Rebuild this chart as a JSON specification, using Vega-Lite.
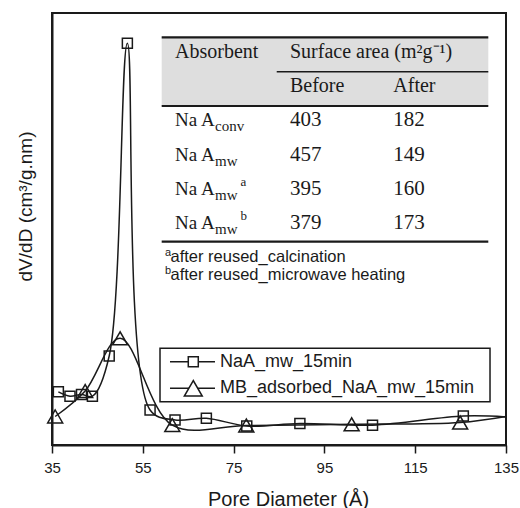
{
  "$schema": "https://vega.github.io/schema/vega-lite/v6.json",
  "width": 454,
  "height": 432,
  "autosize": {"type": "none"},
  "padding": {"left": 52, "top": 13, "right": 14, "bottom": 63},
  "background": "white",
  "config": {
    "view": {"stroke": "#1a1a1a", "strokeWidth": 2},
    "font": "Liberation Sans",
    "text": {"color": "#1a1a1a"}
  },
  "data": {"values": [{}]},
  "datasets": {
    "curves": [
      {"series": "NaA_mw_15min", "d": 36.4, "v": 12.3, "marker": true},
      {"series": "NaA_mw_15min", "d": 38.96, "v": 11.3, "marker": true},
      {"series": "NaA_mw_15min", "d": 41.5, "v": 11.7, "marker": true},
      {"series": "NaA_mw_15min", "d": 43.9, "v": 11.3, "marker": true},
      {"series": "NaA_mw_15min", "d": 47.6, "v": 20.6, "marker": true},
      {"series": "NaA_mw_15min", "d": 51.6, "v": 93.0, "marker": true},
      {"series": "NaA_mw_15min", "d": 56.6, "v": 8.1, "marker": true},
      {"series": "NaA_mw_15min", "d": 62.1, "v": 5.8, "marker": true},
      {"series": "NaA_mw_15min", "d": 69.0, "v": 6.2, "marker": true},
      {"series": "NaA_mw_15min", "d": 77.9, "v": 4.4, "marker": true},
      {"series": "NaA_mw_15min", "d": 89.6, "v": 5.0, "marker": true},
      {"series": "NaA_mw_15min", "d": 105.6, "v": 4.6, "marker": true},
      {"series": "NaA_mw_15min", "d": 125.6, "v": 6.7, "marker": true},
      {"series": "NaA_mw_15min", "d": 135, "v": 6.5, "marker": false},
      {"series": "MB_adsorbed_NaA_mw_15min", "d": 35.7, "v": 6.6, "marker": true},
      {"series": "MB_adsorbed_NaA_mw_15min", "d": 42.3, "v": 12.5, "marker": true},
      {"series": "MB_adsorbed_NaA_mw_15min", "d": 50.0, "v": 24.7, "marker": true},
      {"series": "MB_adsorbed_NaA_mw_15min", "d": 61.5, "v": 4.6, "marker": true},
      {"series": "MB_adsorbed_NaA_mw_15min", "d": 77.8, "v": 4.5, "marker": true},
      {"series": "MB_adsorbed_NaA_mw_15min", "d": 101.0, "v": 4.8, "marker": true},
      {"series": "MB_adsorbed_NaA_mw_15min", "d": 124.9, "v": 5.2, "marker": true},
      {"series": "MB_adsorbed_NaA_mw_15min", "d": 135, "v": 6.6, "marker": false}
    ],
    "table": [
      {"row": 2, "name": "Na A", "sub": "conv", "sup": "", "before": "403", "after": "182"},
      {"row": 3, "name": "Na A", "sub": "mw", "sup": "", "before": "457", "after": "149"},
      {"row": 4, "name": "Na A", "sub": "mw", "sup": "a", "before": "395", "after": "160"},
      {"row": 5, "name": "Na A", "sub": "mw", "sup": "b", "before": "379", "after": "173"}
    ]
  },
  "layer": [
    {
      "layer": [
        {
          "data": {"name": "curves"},
          "mark": {"type": "line", "interpolate": "catmull-rom", "strokeWidth": 1.5, "color": "#1a1a1a"},
          "encoding": {
            "x": {
              "field": "d", "type": "quantitative",
              "scale": {"domain": [35, 135], "nice": false, "zero": false},
              "axis": {
                "title": "Pore Diameter (Å)", "values": [35, 55, 75, 95, 115, 135], "grid": false,
                "tickSize": 8, "tickWidth": 1.5, "tickColor": "#1a1a1a",
                "domainColor": "#1a1a1a", "domainWidth": 2,
                "labelFont": "Liberation Sans", "labelFontSize": 15, "labelColor": "#1a1a1a",
                "labelPadding": 7, "labelFlush": false,
                "titleFont": "Liberation Sans", "titleFontSize": 20, "titleFontWeight": "normal",
                "titleColor": "#1a1a1a", "titleX": 236, "titleY": 54, "titleAlign": "center", "titleBaseline": "middle"
              }
            },
            "y": {
              "field": "v", "type": "quantitative",
              "scale": {"domain": [0, 100], "nice": false, "zero": false},
              "axis": {
                "title": "dV/dD (cm³/g.nm)", "labels": false, "ticks": false, "grid": false,
                "domainColor": "#1a1a1a", "domainWidth": 2,
                "titleFont": "Liberation Sans", "titleFontSize": 19, "titleFontWeight": "normal",
                "titleColor": "#1a1a1a", "titleAngle": -90, "titleAlign": "center",
                "titleBaseline": "middle", "titleX": -27, "titleY": 193
              }
            },
            "detail": {"field": "series"}
          }
        },
        {
          "data": {"name": "curves"},
          "transform": [{"filter": "datum.marker"}],
          "mark": {"type": "point", "filled": false, "strokeWidth": 1.5, "color": "#1a1a1a", "opacity": 1},
          "encoding": {
            "x": {"field": "d", "type": "quantitative", "scale": {"domain": [35, 135], "nice": false, "zero": false}},
            "y": {"field": "v", "type": "quantitative", "scale": {"domain": [0, 100], "nice": false, "zero": false}},
            "shape": {
              "field": "series", "type": "nominal",
              "scale": {"domain": ["NaA_mw_15min", "MB_adsorbed_NaA_mw_15min"], "range": ["square", "triangle-up"]},
              "legend": null
            },
            "size": {
              "field": "series", "type": "ordinal",
              "scale": {"domain": ["NaA_mw_15min", "MB_adsorbed_NaA_mw_15min"], "range": [100, 225]},
              "legend": null
            }
          }
        },
        {
          "mark": {"type": "rect", "fill": "white", "stroke": "#1a1a1a", "strokeWidth": 1.5},
          "encoding": {
            "x": {"datum": 58.79, "type": "quantitative", "scale": {"domain": [35, 135], "nice": false, "zero": false}},
            "x2": {"datum": 131.48},
            "y": {"datum": 22.38, "type": "quantitative", "scale": {"domain": [0, 100], "nice": false, "zero": false}},
            "y2": {"datum": 10.03}
          }
        },
        {
          "mark": {"type": "rule", "strokeWidth": 1.5, "color": "#1a1a1a"},
          "encoding": {
            "x": {"datum": 60.99, "type": "quantitative", "scale": {"domain": [35, 135], "nice": false, "zero": false}},
            "x2": {"datum": 70.9},
            "y": {"datum": 19.28, "type": "quantitative", "scale": {"domain": [0, 100], "nice": false, "zero": false}}
          }
        },
        {
          "mark": {"type": "rule", "strokeWidth": 1.5, "color": "#1a1a1a"},
          "encoding": {
            "x": {"datum": 60.99, "type": "quantitative", "scale": {"domain": [35, 135], "nice": false, "zero": false}},
            "x2": {"datum": 70.9},
            "y": {"datum": 13.13, "type": "quantitative", "scale": {"domain": [0, 100], "nice": false, "zero": false}}
          }
        },
        {
          "mark": {"type": "point", "shape": "square", "size": 100, "filled": true, "fill": "white", "stroke": "#1a1a1a", "strokeWidth": 1.5, "opacity": 1},
          "encoding": {
            "x": {"datum": 66.12, "type": "quantitative", "scale": {"domain": [35, 135], "nice": false, "zero": false}},
            "y": {"datum": 19.28, "type": "quantitative", "scale": {"domain": [0, 100], "nice": false, "zero": false}}
          }
        },
        {
          "mark": {"type": "point", "shape": "triangle-up", "size": 320, "filled": true, "fill": "white", "stroke": "#1a1a1a", "strokeWidth": 1.5, "opacity": 1},
          "encoding": {
            "x": {"datum": 66.12, "type": "quantitative", "scale": {"domain": [35, 135], "nice": false, "zero": false}},
            "y": {"datum": 13.13, "type": "quantitative", "scale": {"domain": [0, 100], "nice": false, "zero": false}}
          }
        },
        {
          "mark": {"type": "text", "text": "NaA_mw_15min", "font": "Liberation Sans", "fontSize": 18, "align": "left", "baseline": "middle", "color": "#1a1a1a"},
          "encoding": {
            "x": {"datum": 72.0, "type": "quantitative", "scale": {"domain": [35, 135], "nice": false, "zero": false}},
            "y": {"datum": 19.28, "type": "quantitative", "scale": {"domain": [0, 100], "nice": false, "zero": false}}
          }
        },
        {
          "mark": {"type": "text", "text": "MB_adsorbed_NaA_mw_15min", "font": "Liberation Sans", "fontSize": 18, "align": "left", "baseline": "middle", "color": "#1a1a1a"},
          "encoding": {
            "x": {"datum": 72.0, "type": "quantitative", "scale": {"domain": [35, 135], "nice": false, "zero": false}},
            "y": {"datum": 13.13, "type": "quantitative", "scale": {"domain": [0, 100], "nice": false, "zero": false}}
          }
        }
      ]
    },
    {
      "layer": [
        {
          "mark": {"type": "rect", "fill": "#dedede"},
          "encoding": {
            "x": {"datum": 59.16, "type": "quantitative", "scale": {"domain": [35, 135], "nice": false, "zero": false}},
            "x2": {"datum": 131.1},
            "y": {"datum": -0.42, "type": "quantitative", "scale": {"domain": [-1.1283, 11.4665], "reverse": true, "nice": false, "zero": false}, "axis": null},
            "y2": {"datum": 1.583}
          }
        },
        {
          "mark": {"type": "rule", "strokeWidth": 2.2, "color": "#1a1a1a"},
          "encoding": {
            "x": {"datum": 59.16, "type": "quantitative", "scale": {"domain": [35, 135], "nice": false, "zero": false}},
            "x2": {"datum": 131.1},
            "y": {"datum": -0.42, "type": "quantitative", "scale": {"domain": [-1.1283, 11.4665], "reverse": true, "nice": false, "zero": false}, "axis": null}
          }
        },
        {
          "mark": {"type": "rule", "strokeWidth": 2.2, "color": "#1a1a1a"},
          "encoding": {
            "x": {"datum": 59.16, "type": "quantitative", "scale": {"domain": [35, 135], "nice": false, "zero": false}},
            "x2": {"datum": 131.1},
            "y": {"datum": 1.583, "type": "quantitative", "scale": {"domain": [-1.1283, 11.4665], "reverse": true, "nice": false, "zero": false}, "axis": null}
          }
        },
        {
          "mark": {"type": "rule", "strokeWidth": 1.4, "color": "#1a1a1a"},
          "encoding": {
            "x": {"datum": 84.5, "type": "quantitative", "scale": {"domain": [35, 135], "nice": false, "zero": false}},
            "x2": {"datum": 131.1},
            "y": {"datum": 0.583, "type": "quantitative", "scale": {"domain": [-1.1283, 11.4665], "reverse": true, "nice": false, "zero": false}, "axis": null}
          }
        },
        {
          "mark": {"type": "rule", "strokeWidth": 2.2, "color": "#1a1a1a"},
          "encoding": {
            "x": {"datum": 59.16, "type": "quantitative", "scale": {"domain": [35, 135], "nice": false, "zero": false}},
            "x2": {"datum": 131.1},
            "y": {"datum": 5.539, "type": "quantitative", "scale": {"domain": [-1.1283, 11.4665], "reverse": true, "nice": false, "zero": false}, "axis": null}
          }
        },
        {
          "mark": {"type": "text", "text": "Absorbent", "font": "Liberation Serif", "fontSize": 20, "align": "left", "baseline": "middle"},
          "encoding": {
            "x": {"datum": 62.1, "type": "quantitative", "scale": {"domain": [35, 135], "nice": false, "zero": false}},
            "y": {"datum": 0, "type": "quantitative", "scale": {"domain": [-1.1283, 11.4665], "reverse": true, "nice": false, "zero": false}, "axis": null}
          }
        },
        {
          "mark": {"type": "text", "text": "Surface area (m²g⁻¹)", "font": "Liberation Serif", "fontSize": 20, "align": "left", "baseline": "middle"},
          "encoding": {
            "x": {"datum": 87.42, "type": "quantitative", "scale": {"domain": [35, 135], "nice": false, "zero": false}},
            "y": {"datum": 0, "type": "quantitative", "scale": {"domain": [-1.1283, 11.4665], "reverse": true, "nice": false, "zero": false}, "axis": null}
          }
        },
        {
          "mark": {"type": "text", "text": "Before", "font": "Liberation Serif", "fontSize": 20, "align": "left", "baseline": "middle"},
          "encoding": {
            "x": {"datum": 87.42, "type": "quantitative", "scale": {"domain": [35, 135], "nice": false, "zero": false}},
            "y": {"datum": 1, "type": "quantitative", "scale": {"domain": [-1.1283, 11.4665], "reverse": true, "nice": false, "zero": false}, "axis": null}
          }
        },
        {
          "mark": {"type": "text", "text": "After", "font": "Liberation Serif", "fontSize": 20, "align": "left", "baseline": "middle"},
          "encoding": {
            "x": {"datum": 110.17, "type": "quantitative", "scale": {"domain": [35, 135], "nice": false, "zero": false}},
            "y": {"datum": 1, "type": "quantitative", "scale": {"domain": [-1.1283, 11.4665], "reverse": true, "nice": false, "zero": false}, "axis": null}
          }
        },
        {
          "data": {"name": "table"},
          "mark": {"type": "text", "font": "Liberation Serif", "fontSize": 19, "align": "left", "baseline": "middle"},
          "encoding": {
            "x": {"datum": 62.1, "type": "quantitative", "scale": {"domain": [35, 135], "nice": false, "zero": false}},
            "y": {"field": "row", "type": "quantitative", "scale": {"domain": [-1.1283, 11.4665], "reverse": true, "nice": false, "zero": false}, "axis": null},
            "text": {"field": "name"}
          }
        },
        {
          "data": {"name": "table"},
          "mark": {"type": "text", "font": "Liberation Serif", "fontSize": 15, "align": "left", "baseline": "middle", "dy": 6},
          "encoding": {
            "x": {"datum": 70.9, "type": "quantitative", "scale": {"domain": [35, 135], "nice": false, "zero": false}},
            "y": {"field": "row", "type": "quantitative", "scale": {"domain": [-1.1283, 11.4665], "reverse": true, "nice": false, "zero": false}, "axis": null},
            "text": {"field": "sub"}
          }
        },
        {
          "data": {"name": "table"},
          "mark": {"type": "text", "font": "Liberation Serif", "fontSize": 13, "align": "left", "baseline": "middle", "dy": -7},
          "encoding": {
            "x": {"datum": 76.5, "type": "quantitative", "scale": {"domain": [35, 135], "nice": false, "zero": false}},
            "y": {"field": "row", "type": "quantitative", "scale": {"domain": [-1.1283, 11.4665], "reverse": true, "nice": false, "zero": false}, "axis": null},
            "text": {"field": "sup"}
          }
        },
        {
          "data": {"name": "table"},
          "mark": {"type": "text", "font": "Liberation Serif", "fontSize": 21, "align": "left", "baseline": "middle"},
          "encoding": {
            "x": {"datum": 87.42, "type": "quantitative", "scale": {"domain": [35, 135], "nice": false, "zero": false}},
            "y": {"field": "row", "type": "quantitative", "scale": {"domain": [-1.1283, 11.4665], "reverse": true, "nice": false, "zero": false}, "axis": null},
            "text": {"field": "before"}
          }
        },
        {
          "data": {"name": "table"},
          "mark": {"type": "text", "font": "Liberation Serif", "fontSize": 21, "align": "left", "baseline": "middle"},
          "encoding": {
            "x": {"datum": 110.17, "type": "quantitative", "scale": {"domain": [35, 135], "nice": false, "zero": false}},
            "y": {"field": "row", "type": "quantitative", "scale": {"domain": [-1.1283, 11.4665], "reverse": true, "nice": false, "zero": false}, "axis": null},
            "text": {"field": "after"}
          }
        },
        {
          "mark": {"type": "text", "text": "a", "font": "Liberation Sans", "fontSize": 11, "align": "left", "baseline": "middle", "dy": -4},
          "encoding": {
            "x": {"datum": 59.89, "type": "quantitative", "scale": {"domain": [35, 135], "nice": false, "zero": false}},
            "y": {"datum": 5.977, "type": "quantitative", "scale": {"domain": [-1.1283, 11.4665], "reverse": true, "nice": false, "zero": false}, "axis": null}
          }
        },
        {
          "mark": {"type": "text", "text": "after reused_calcination", "font": "Liberation Sans", "fontSize": 16.5, "align": "left", "baseline": "middle"},
          "encoding": {
            "x": {"datum": 61.1, "type": "quantitative", "scale": {"domain": [35, 135], "nice": false, "zero": false}},
            "y": {"datum": 5.977, "type": "quantitative", "scale": {"domain": [-1.1283, 11.4665], "reverse": true, "nice": false, "zero": false}, "axis": null}
          }
        },
        {
          "mark": {"type": "text", "text": "b", "font": "Liberation Sans", "fontSize": 11, "align": "left", "baseline": "middle", "dy": -4},
          "encoding": {
            "x": {"datum": 59.89, "type": "quantitative", "scale": {"domain": [35, 135], "nice": false, "zero": false}},
            "y": {"datum": 6.51, "type": "quantitative", "scale": {"domain": [-1.1283, 11.4665], "reverse": true, "nice": false, "zero": false}, "axis": null}
          }
        },
        {
          "mark": {"type": "text", "text": "after reused_microwave heating", "font": "Liberation Sans", "fontSize": 16.5, "align": "left", "baseline": "middle"},
          "encoding": {
            "x": {"datum": 61.1, "type": "quantitative", "scale": {"domain": [35, 135], "nice": false, "zero": false}},
            "y": {"datum": 6.51, "type": "quantitative", "scale": {"domain": [-1.1283, 11.4665], "reverse": true, "nice": false, "zero": false}, "axis": null}
          }
        }
      ]
    }
  ],
  "resolve": {"scale": {"y": "independent"}}
}
